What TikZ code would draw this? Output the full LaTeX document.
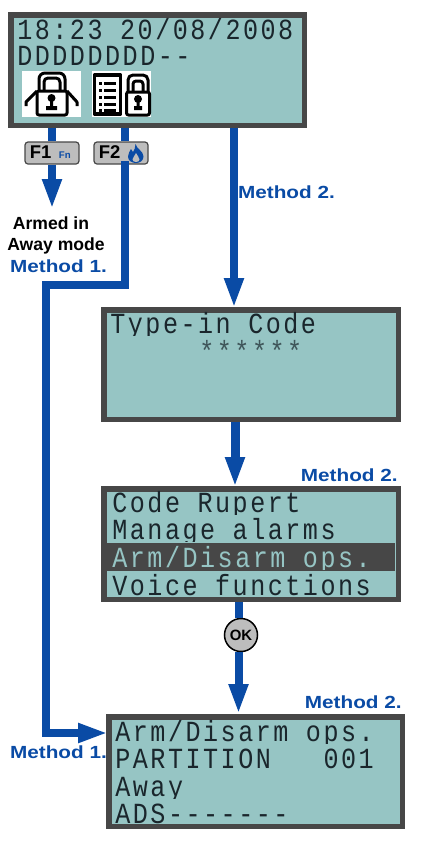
\documentclass[tikz,border=0pt]{standalone}
\usepackage{fontspec}
\usetikzlibrary{calc, positioning}
\usetikzlibrary{arrows.meta}
\newfontfamily\lcdfont[FakeStretch=0.86,LetterSpace=8.6]{Liberation Mono}
\newfontfamily\methodfont[FakeStretch=1.18]{Liberation Sans}
\newfontfamily\labelfont{Liberation Sans}
\definecolor{lcdback}{HTML}{96C5C4}
\definecolor{lcdframe}{HTML}{474747}
\definecolor{lcdink}{HTML}{1A262C}
\definecolor{flowblue}{HTML}{0A4BA5}
\definecolor{keygrey}{HTML}{BDBDBD}
\tikzset{
  lcdscreen/.style={draw=lcdframe,fill=lcdback,line width=5.5*0.02cm,inner sep=0pt},
  lcdtext/.style={anchor=base west,inner sep=0pt,text=lcdink,font=\lcdfont\fontsize{16.6pt}{18pt}\selectfont},
  flowline/.style={draw=flowblue,line width=8*0.02cm},
  flowarrow/.style={flowline,-{Triangle[length=30*0.02cm,width=18*0.02cm]}},
  methodtext/.style={anchor=base,inner sep=0pt,text=flowblue,font=\methodfont\bfseries\fontsize{10pt}{12pt}\selectfont},
  fkey/.style={draw=lcdframe,fill=keygrey,line width=1.2*0.02cm,rounded corners=3*0.02cm,
    minimum width=54*0.02cm,minimum height=22*0.02cm,inner sep=0pt},
  keytext/.style={anchor=base west,inner sep=0pt,font=\labelfont\bfseries\fontsize{10.5pt}{12pt}\selectfont},
  lockline/.style={draw=black,line width=3*0.02cm,line join=round},
}
% one text row of a screen, cut off just below its baseline
\newcommand{\lcdrow}[5][lcdink]{%
  \begin{scope}
    \clip (#3-5,#4-22) rectangle (#3+292,#4+2);
    \node[lcdtext,text=#1] (#2) at (#3,#4) {#5};
  \end{scope}}
\begin{document}
\begin{tikzpicture}[x=0.02cm,y=-0.02cm]
\useasboundingbox (0,0) rectangle (432,849);

% Screens
\node[lcdscreen,minimum width=293.5*0.02cm,minimum height=110.5*0.02cm] (scrTop) at (157.5,70) {};
\node[lcdscreen,minimum width=294.5*0.02cm,minimum height=109.5*0.02cm] (scrCode) at (251,364.5) {};
\node[lcdscreen,minimum width=294.5*0.02cm,minimum height=110.5*0.02cm] (scrMenu) at (251,544) {};
\node[lcdscreen,minimum width=293.5*0.02cm,minimum height=109.5*0.02cm] (scrArm) at (255.5,771.5) {};

% Selected menu row
\fill[lcdframe] (107,543) rectangle (395,571);

% Screen texts
\lcdrow{topDate}{17}{39}{18:23 20/08/2008}
\lcdrow{topZones}{17}{65.5}{DDDDDDDD--}
\lcdrow{codeTitle}{110}{333}{Type-in Code}
\node[lcdtext,text=lcdink!70!lcdback] (codeStars) at (199,361.5) {******};
\lcdrow{menuOne}{112}{512}{Code Rupert}
\lcdrow{menuTwo}{112}{539}{Manage alarms}
\lcdrow[lcdback]{menuThree}{112}{567}{Arm/Disarm ops.}
\lcdrow{menuFour}{112}{595}{Voice functions}
\lcdrow{armOne}{115}{741}{Arm/Disarm ops.}
\lcdrow{armTwo}{115}{768}{PARTITION~~~001}
\lcdrow{armThree}{115}{796}{Away}
\lcdrow{armFour}{115}{823}{ADS-------}

% Away icon
\fill[white] (22,71) rectangle (81,117);
\draw[lockline,rounded corners=2*0.02cm] (37,91) rectangle (67,115);
\draw[lockline,rounded corners=6*0.02cm] (39,90) -- (39,73) -- (65,73) -- (65,90);
\draw[lockline,rounded corners=4*0.02cm] (44,90) -- (44,78) -- (60,78) -- (60,90);
\draw[lockline] (37,91) -- (26,102) -- (26,106);
\draw[lockline] (67,91) -- (77,102) -- (77,106);
\fill[black] (51.5,98) circle (4);
\fill[black] (50,98) rectangle (53,108) (46,106) rectangle (57,110);

% Menu and lock icon
\fill[white] (92,71) rectangle (151,117);
\draw[lockline,line width=3.5*0.02cm] (94.5,75) rectangle (120.5,114);
\foreach \rowy in {82,89,96,103,109} {
  \fill[black] (99,\rowy) rectangle (102,\rowy+2.5);
  \fill[black] (104,\rowy) rectangle (116,\rowy+2.5);
}
\draw[lockline,rounded corners=2*0.02cm] (126.5,92) rectangle (149.5,115);
\draw[lockline,rounded corners=5*0.02cm] (128,91) -- (128,75) -- (148,75) -- (148,91);
\draw[lockline,rounded corners=3*0.02cm] (133,91) -- (133,81) -- (143,81) -- (143,91);
\fill[black] (138,99) circle (4);
\fill[black] (136.5,99) rectangle (139.5,109) (134,106) rectangle (142,110);

% Function keys
\node[fkey] (keyOne) at (52,153) {};
\node[fkey] (keyTwo) at (121,153) {};
\node[keytext] (keyOneName) at (29.5,158.5) {F1};
\node[keytext,font=\labelfont\bfseries\fontsize{5.5pt}{6pt}\selectfont,text=flowblue] (keyOneMark) at (58.5,158) {Fn};
\node[keytext] (keyTwoName) at (98.5,158.5) {F2};
\fill[flowblue] (135.5,144) .. controls (136.5,149) and (143.5,151) .. (143.5,156.5)
    .. controls (143.5,160.5) and (140,163) .. (136,163)
    .. controls (131.5,163) and (128,160.5) .. (128,156.5)
    .. controls (128,153) and (130,151.5) .. (131,149)
    .. controls (132,150) and (132.5,151) .. (133,152)
    .. controls (134.5,150) and (135.5,147) .. (135.5,144);
\fill[keygrey] (136,153) .. controls (137,156) and (139.5,157) .. (139.5,159.5)
    .. controls (139.5,161) and (138,162) .. (136,162)
    .. controls (134,162) and (132.5,161) .. (132.5,159.5)
    .. controls (132.5,157.5) and (135,156) .. (136,153);

% OK button
\node[circle,draw=black,fill=keygrey,line width=1.5*0.02cm,minimum size=33*0.02cm,inner sep=0pt,
  font=\labelfont\bfseries\fontsize{8.5pt}{10pt}\selectfont] (btnOk) at (241,635) {OK};

% Labels
\node[anchor=base,inner sep=0pt,font=\labelfont\bfseries\fontsize{10pt}{12pt}\selectfont] (armedOne) at (51,229) {Armed in};
\node[anchor=base,inner sep=0pt,font=\labelfont\bfseries\fontsize{10pt}{12pt}\selectfont] (armedTwo) at (56,250) {Away mode};
\node[methodtext] (methodA) at (58.5,272) {Method 1.};
\node[methodtext] (methodB) at (286.5,198) {Method 2.};
\node[methodtext,anchor=base east] (methodC) at (398,481) {Method 2.};
\node[methodtext,anchor=base east] (methodD) at (402,708) {Method 2.};
\node[methodtext] (methodE) at (58.5,758) {Method 1.};

% Route points
\coordinate (armedTip) at (52,209);
\coordinate (upperBend) at (125,285);
\coordinate (leftBend) at (46,285);
\coordinate (lowerBend) at (46,733);
\coordinate (armTip) at (108,733);

% Connectors
\draw[flowline] (scrTop.south -| keyOne) -- (keyOne.north);
\draw[flowarrow] (keyOne.south) -- (armedTip);
\draw[flowline] (scrTop.south -| upperBend) -- ($(keyTwo.north -| upperBend)$);
\draw[flowline,line cap=rect] ($(keyTwo.south -| upperBend)$) -- (upperBend) -- (leftBend) -- (lowerBend);
\draw[flowarrow] (lowerBend) -- (armTip);
\draw[flowarrow] (234,128) -- (234,308);
\draw[flowarrow,line width=9*0.02cm] (235,422) -- (235,487);
\draw[flowline] (238.5,602) -- (btnOk.north -| 238.5,0);
\draw[flowarrow] (btnOk.south -| 238.5,0) -- (238.5,714);
\end{tikzpicture}
\end{document}
